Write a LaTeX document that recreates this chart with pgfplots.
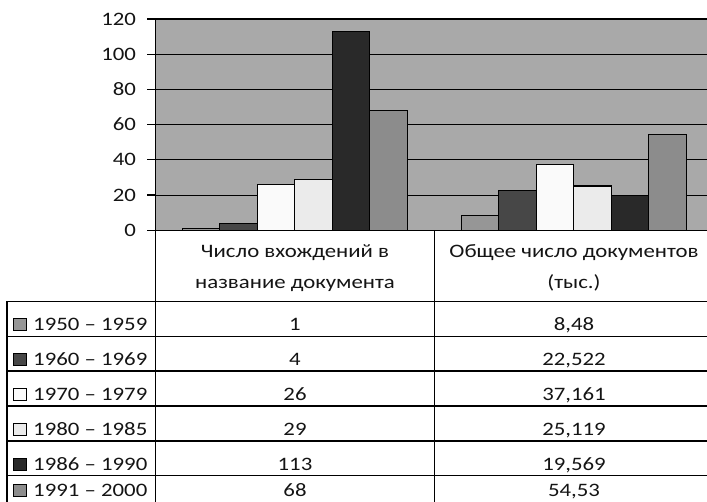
\documentclass[border=0pt]{standalone}
\usepackage{pgfplots}
\pgfplotsset{compat=1.18}
\usepackage{fontspec}
\setmainfont{Carlito}[FakeStretch=1.2]
\definecolor{bg}{HTML}{A9A9A9}
\definecolor{ca}{HTML}{969696}
\definecolor{cb}{HTML}{474747}
\definecolor{cc}{HTML}{FAFAFA}
\definecolor{cd}{HTML}{EBEBEB}
\definecolor{ce}{HTML}{292929}
\definecolor{cf}{HTML}{8C8C8C}
\definecolor{txt}{HTML}{141414}
\newcommand{\tf}{\fontsize{19}{22}\selectfont\color{txt}}
\begin{document}
\begin{tikzpicture}
\useasboundingbox (0,0) rectangle (707pt,502pt);
\begin{axis}[
  at={(155.5pt,271.7pt)}, anchor=south west,
  scale only axis, width=551pt, height=211.3pt,
  xmin=-0.5, xmax=1.4767, ymin=0, ymax=120,
  ybar=0pt, bar width=37.5pt,
  xtick=\empty, ytick={0,20,...,120},
  axis lines=left,
  axis line style={-, black, line width=1.2pt},
  ymajorgrids, major grid style={black, line width=1.1pt},
  tick align=outside, major tick length=8pt,
  tick style={black, line width=1.2pt},
  ytick pos=left,
  /pgf/number format/assume math mode=true,
  yticklabel style={font=\tf, xshift=-8pt},
  axis background/.style={fill=bg},
  every axis plot/.append style={draw=black, line width=1.2pt},
]
\addplot[fill=ca] coordinates {(0,1) (1,8.48)};
\addplot[fill=cb] coordinates {(0,4) (1,22.522)};
\addplot[fill=cc] coordinates {(0,26) (1,37.161)};
\addplot[fill=cd] coordinates {(0,29) (1,25.119)};
\addplot[fill=ce] coordinates {(0,113) (1,19.569)};
\addplot[fill=cf] coordinates {(0,68) (1,54.53)};
\end{axis}
% data table
\begin{scope}[line width=1.2pt, draw=black]
\draw (155.5pt,271.7pt) -- (155.5pt,0pt);
\draw (434.5pt,271.7pt) -- (434.5pt,0pt);
\draw (7pt,200.5pt) -- (7pt,0pt);
\foreach \yy in {200.5,165.5,131,96,61,26.5}{\draw (7pt,\yy pt) -- (707pt,\yy pt);}
\end{scope}
\node[anchor=base, inner sep=0pt] at (295pt,244pt) {\tf Число вхождений в};
\node[anchor=base, inner sep=0pt] at (295pt,213pt) {\tf название документа};
\node[anchor=base, inner sep=0pt] at (574pt,244pt) {\tf Общее число документов};
\node[anchor=base, inner sep=0pt] at (574pt,213pt) {\tf (тыс.)};
\foreach \yb/\col/\lab/\va/\vb in {171/ca/1950 -- 1959/1/{8,48}, 136/cb/1960 -- 1969/4/{22,522}, 101.5/cc/1970 -- 1979/26/{37,161}, 66.5/cd/1980 -- 1985/29/{25,119}, 31.5/ce/1986 -- 1990/113/{19,569}, 5/cf/1991 -- 2000/68/{54,53}}{
  \draw[fill=\col, line width=1pt] (13pt,\yb pt) rectangle (26pt,\yb pt+12pt);
  \node[anchor=base west, inner sep=0pt] at (33pt,\yb pt) {\tf \lab};
  \node[anchor=base, inner sep=0pt] at (295pt,\yb pt) {\tf \va};
  \node[anchor=base, inner sep=0pt] at (574pt,\yb pt) {\tf \vb};
}
\end{tikzpicture}
\end{document}
